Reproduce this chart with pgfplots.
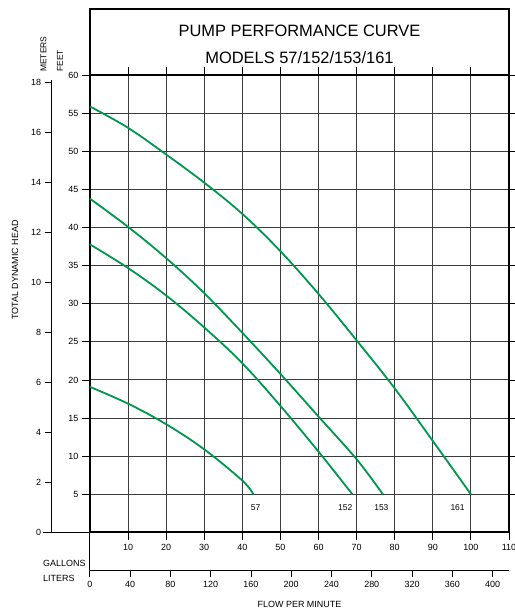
\documentclass[border=0pt]{standalone}
\usepackage{pgfplots}
\pgfplotsset{compat=1.18}
\usepackage{fontspec}
\setmainfont{Liberation Sans}
\definecolor{pumpgreen}{RGB}{0,150,75}
\definecolor{gridc}{RGB}{60,60,60}
\newcommand{\tfont}{\fontsize{9}{10}\selectfont}
\begin{document}
\begin{tikzpicture}
\path[use as bounding box] (0bp,0bp) rectangle (515bp,611bp);
% title box
\draw[line width=2bp] (89.9bp,535.8bp) rectangle (509bp,602bp);
\node[anchor=base,font=\fontsize{16.5}{18}\selectfont] at (299.5bp,574.3bp) {PUMP PERFORMANCE CURVE};
\node[anchor=base,font=\fontsize{16.5}{18}\selectfont] at (299.5bp,547.7bp) {MODELS 57/152/153/161};
% side labels
\node[rotate=90,anchor=west,inner sep=0pt,font=\fontsize{8.5}{9}\selectfont] at (43.5bp,539bp) {METERS};
\node[rotate=90,anchor=west,inner sep=0pt,font=\fontsize{8.5}{9}\selectfont] at (60bp,539bp) {FEET};
\node[rotate=90,font=\tfont] at (15bp,341bp) {TOTAL DYNAMIC HEAD};
\node[anchor=west,inner sep=0pt,font=\tfont] at (43bp,48bp) {GALLONS};
\node[anchor=west,inner sep=0pt,font=\tfont] at (43bp,32.3bp) {LITERS};
\node[font=\tfont] at (299.5bp,6.5bp) {FLOW PER MINUTE};

% main axis (gallons / feet)
\begin{axis}[
  at={(89.9bp,78.6bp)}, anchor=south west,
  scale only axis, width=419.1bp, height=457.2bp,
  xmin=0, xmax=110, ymin=0, ymax=60,
  xtick={10,20,...,110}, ytick={5,10,...,60},
  grid=major, major grid style={gridc, line width=1bp},
  axis line style={line width=2bp},
  tick align=outside, major tick length=8bp,
  tick style={black, line width=0.9bp},
  ticklabel style={font=\tfont},
  /pgf/number format/assume math mode=true,
  clip=false,
]
\addplot[pumpgreen, line width=1.8bp, smooth, tension=0.6] coordinates {
 (0,55.9) (10,53.1) (20,49.6) (30,45.9) (40,41.8) (50,36.9) (60,31.3)
 (70,25.2) (80,18.9) (90,12.0) (100,5)};
\addplot[pumpgreen, line width=1.8bp, smooth, tension=0.6] coordinates {
 (0,43.8) (10,40.1) (20,36.0) (30,31.4) (40,26.2) (50,20.8) (60,15.2) (70,9.6) (76.9,5)};
\addplot[pumpgreen, line width=1.8bp, smooth, tension=0.6] coordinates {
 (0,37.8) (10,34.7) (20,31.1) (30,26.9) (40,22.2) (50,16.6) (60,10.6) (68.9,5)};
\addplot[pumpgreen, line width=1.8bp, smooth, tension=0.6] coordinates {
 (0,19.1) (10,16.9) (20,14.2) (30,10.9) (40,6.8) (42.9,5)};
\node[font=\fontsize{8.5}{9}\selectfont] at (axis cs:43.5,3.3) {57};
\node[font=\fontsize{8.5}{9}\selectfont] at (axis cs:67.0,3.3) {152};
\node[font=\fontsize{8.5}{9}\selectfont] at (axis cs:76.5,3.3) {153};
\node[font=\fontsize{8.5}{9}\selectfont] at (axis cs:96.5,3.3) {161};
\draw[line width=0.9bp] (axis cs:0,0) -- ++(-46.9bp,0bp);
\draw[line width=0.9bp] (axis cs:0,0) -- ++(0bp,-37.6bp);
\end{axis}

% meters axis
\begin{axis}[
  at={(51.7bp,78.6bp)}, anchor=south west,
  scale only axis, width=5bp, height=452.1bp,
  xmin=0, xmax=1, ymin=0, ymax=18.1,
  hide x axis, axis y line*=left,
  every non boxed y axis/.append style={y axis line style=-},
  axis line style={line width=0.9bp},
  ytick={0,2,...,18},
  tick align=outside, major tick length=7bp,
  tick style={black, line width=0.9bp},
  ticklabel style={font=\tfont},
  /pgf/number format/assume math mode=true,
]
\end{axis}

% liters axis
\begin{axis}[
  at={(89.9bp,41bp)}, anchor=south west,
  scale only axis, width=419.1bp, height=10bp,
  xmin=0, xmax=416.35, ymin=0, ymax=1,
  hide y axis, axis x line*=bottom,
  every non boxed x axis/.append style={x axis line style=-},
  axis line style={line width=0.9bp},
  xtick={0,40,...,400},
  tick align=outside, major tick length=7bp,
  tick style={black, line width=0.9bp},
  ticklabel style={font=\tfont},
  xticklabel shift=1bp,
  /pgf/number format/assume math mode=true,
]
\end{axis}
\end{tikzpicture}
\end{document}
